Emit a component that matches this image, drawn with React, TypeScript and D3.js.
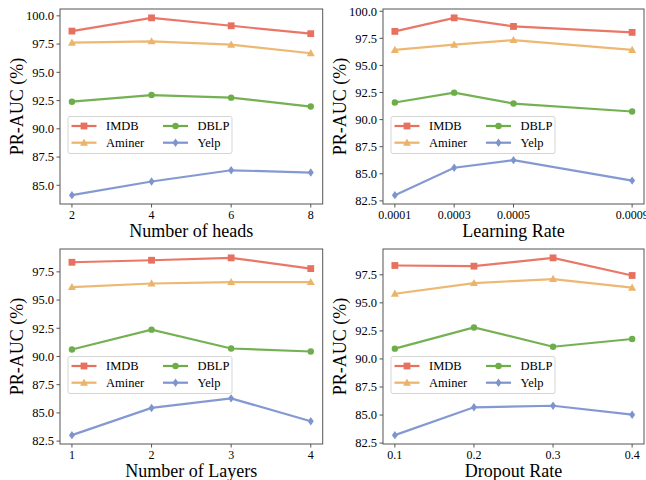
import React from 'react';
import * as d3 from 'd3';

// series names and colours
const seriesNames = ['IMDB', 'Aminer', 'DBLP', 'Yelp'];
const seriesColors = ['#E8705F', '#EBB46A', '#6DAD4A', '#7D94CF'];
const seriesMarkers = ['square', 'triangle', 'circle', 'diamond'];

// Number of heads
const headsX = [2, 4, 6, 8];
const headsLabels = ['2', '4', '6', '8'];
const headsIMDB = [98.65, 99.82, 99.12, 98.42];
const headsAminer = [97.62, 97.74, 97.45, 96.69];
const headsDBLP = [92.4, 92.99, 92.76, 91.97];
const headsYelp = [84.13, 85.34, 86.33, 86.13];

// Learning rate
const lrX = [0.0001, 0.0003, 0.0005, 0.0009];
const lrLabels = ['0.0001', '0.0003', '0.0005', '0.0009'];
const lrIMDB = [98.14, 99.39, 98.6, 98.05];
const lrAminer = [96.43, 96.92, 97.34, 96.43];
const lrDBLP = [91.58, 92.49, 91.48, 90.75];
const lrYelp = [83.03, 85.56, 86.26, 84.37];

// Number of layers
const layersX = [1, 2, 3, 4];
const layersLabels = ['1', '2', '3', '4'];
const layersIMDB = [98.35, 98.53, 98.74, 97.79];
const layersAminer = [96.15, 96.47, 96.59, 96.59];
const layersDBLP = [90.62, 92.38, 90.71, 90.44];
const layersYelp = [83.03, 85.44, 86.29, 84.26];

// Dropout rate
const dropX = [0.1, 0.2, 0.3, 0.4];
const dropLabels = ['0.1', '0.2', '0.3', '0.4'];
const dropIMDB = [98.33, 98.27, 99.01, 97.44];
const dropAminer = [95.81, 96.76, 97.12, 96.35];
const dropDBLP = [90.92, 92.81, 91.09, 91.78];
const dropYelp = [83.21, 85.69, 85.83, 85.03];

const yTickValues = [82.5, 85, 87.5, 90, 92.5, 95, 97.5, 100];

const FONT = '"Liberation Serif", "Times New Roman", serif';

type PanelProps = {
  left: number; right: number; top: number; bottom: number;
  xs: number[]; xLabels: string[]; series: number[][]; xTitle: string;
};

// matplotlib-style 5% padding around the data
const withMargin = (ext: [number, number]): [number, number] => {
  const pad = (ext[1] - ext[0]) * 0.05;
  return [ext[0] - pad, ext[1] + pad];
};

const Marker = ({ kind, x, y, color }: { kind: string; x: number; y: number; color: string }) => {
  if (kind === 'square') return <rect x={x - 3.4} y={y - 3.4} width={6.8} height={6.8} fill={color} />;
  if (kind === 'triangle') return <path d={`M${x},${y - 4.2}L${x + 4},${y + 3}L${x - 4},${y + 3}Z`} fill={color} />;
  if (kind === 'circle') return <circle cx={x} cy={y} r={3.2} fill={color} />;
  return <path d={`M${x},${y - 4.2}L${x + 3},${y}L${x},${y + 4.2}L${x - 3},${y}Z`} fill={color} />;
};

const Panel = ({ left, right, top, bottom, xs, xLabels, series, xTitle }: PanelProps) => {
  const x = d3.scaleLinear().domain(withMargin(d3.extent(xs) as [number, number])).range([left, right]);
  const all = series.flat();
  const y = d3.scaleLinear().domain(withMargin(d3.extent(all) as [number, number])).range([bottom, top]);
  const [y0, y1] = y.domain();
  const yTicks = yTickValues.filter(v => v >= y0 && v <= y1);
  const line = d3.line<number>().x((_, i) => x(xs[i])).y(d => y(d));

  return (
    <g>
      {series.map((vals, s) => (
        <g key={s}>
          <path d={line(vals) || ''} fill="none" stroke={seriesColors[s]} strokeWidth={2.2} strokeOpacity={0.95} />
          {vals.map((v, i) => (
            <Marker key={i} kind={seriesMarkers[s]} x={x(xs[i])} y={y(v)} color={seriesColors[s]} />
          ))}
        </g>
      ))}
      <rect x={left} y={top} width={right - left} height={bottom - top} fill="none" stroke="#555" strokeWidth={1} />
      {yTicks.map(v => (
        <g key={v}>
          <line x1={left - 3.5} x2={left} y1={y(v)} y2={y(v)} stroke="#555" />
          <text x={left - 6} y={y(v)} dy="0.35em" textAnchor="end" fontSize={12.5} fontFamily={FONT}>{v.toFixed(1)}</text>
        </g>
      ))}
      {xs.map((v, i) => (
        <g key={i}>
          <line x1={x(v)} x2={x(v)} y1={bottom} y2={bottom + 3.5} stroke="#555" />
          <text x={x(v)} y={bottom + 14.5} textAnchor="middle" fontSize={12} fontFamily={FONT}>{xLabels[i]}</text>
        </g>
      ))}
      <text x={(left + right) / 2} y={bottom + 32.5} textAnchor="middle" fontSize={18} fontFamily={FONT}>{xTitle}</text>
      <text transform={`translate(${left - 43},${(top + bottom) / 2}) rotate(-90)`} textAnchor="middle" dy="0.35em" fontSize={18} fontFamily={FONT}>PR-AUC (%)</text>
      <g transform={`translate(${left + 8},${top + 107.5})`}>
        <rect x={0} y={0} width={164} height={37} rx={2} fill="white" fillOpacity={0.8} stroke="#d5d5d5" />
        {seriesNames.map((name, s) => {
          // column-major order, two columns
          const c = s < 2 ? 0 : 1;
          const r = s < 2 ? s : s - 2;
          const hx = 3.5 + c * 91.5;
          const hy = 9.5 + r * 16.7;
          return (
            <g key={name}>
              <line x1={hx} x2={hx + 25} y1={hy} y2={hy} stroke={seriesColors[s]} strokeWidth={2.2} />
              <Marker kind={seriesMarkers[s]} x={hx + 12.5} y={hy} color={seriesColors[s]} />
              <text x={hx + 34.5} y={hy} dy="0.35em" fontSize={12.5} fontFamily={FONT}>{name}</text>
            </g>
          );
        })}
      </g>
    </g>
  );
};

export default function App() {
  return (
    <svg width={646} height={480} style={{ position: 'absolute', left: 0, top: 0, background: 'white' }}>
      <Panel left={60} right={322.7} top={9} bottom={204} xs={headsX} xLabels={headsLabels}
        series={[headsIMDB, headsAminer, headsDBLP, headsYelp]} xTitle="Number of heads" />
      <Panel left={383} right={644} top={9} bottom={204} xs={lrX} xLabels={lrLabels}
        series={[lrIMDB, lrAminer, lrDBLP, lrYelp]} xTitle="Learning Rate" />
      <Panel left={60} right={322.7} top={249} bottom={444} xs={layersX} xLabels={layersLabels}
        series={[layersIMDB, layersAminer, layersDBLP, layersYelp]} xTitle="Number of Layers" />
      <Panel left={383} right={644} top={249} bottom={444} xs={dropX} xLabels={dropLabels}
        series={[dropIMDB, dropAminer, dropDBLP, dropYelp]} xTitle="Dropout Rate" />
    </svg>
  );
}
